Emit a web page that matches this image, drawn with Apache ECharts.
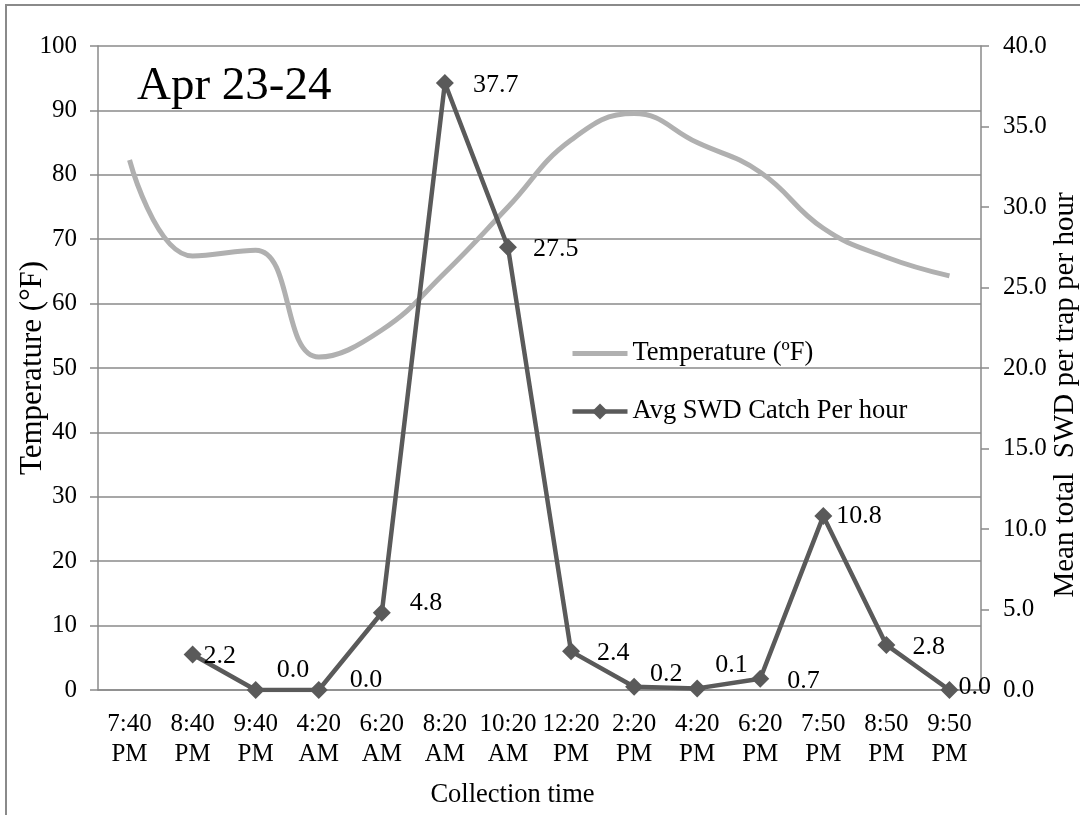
<!DOCTYPE html>
<html>
<head>
<meta charset="utf-8">
<script src="https://cdn.jsdelivr.net/npm/echarts@6/dist/echarts.min.js"></script>
<style>
  html, body { margin: 0; padding: 0; background: #fff; }
  #chart { width: 1080px; height: 815px; }
</style>
</head>
<body>
<div id="chart"></div>
<script>
// ---- Data ----
const categories = ['7:40\nPM', '8:40\nPM', '9:40\nPM', '4:20\nAM', '6:20\nAM', '8:20\nAM', '10:20\nAM',
  '12:20\nPM', '2:20\nPM', '4:20\nPM', '6:20\nPM', '7:50\nPM', '8:50\nPM', '9:50\nPM'];
const temperatureF = [82.3, 67.4, 68.3, 51.7, 55.9, 64.8, 75.0, 85.4, 89.5, 85.0, 80.4, 71.7, 67.2, 64.3];
const swdCatchPerHour = [null, 2.2, 0.0, 0.0, 4.8, 37.7, 27.5, 2.4, 0.2, 0.1, 0.7, 10.8, 2.8, 0.0];
const leftTicks = { min: 0, max: 100, interval: 10 };
const rightTicks = { min: 0, max: 40, interval: 5 };
const chartTitle = 'Apr 23-24';
const tempName = 'Temperature (\u00BAF)';
const swdName = 'Avg SWD Catch Per hour';

// ---- Label nudges (styling only) ----
const labelNudge = [[0,0],[2,2],[12,-20],[22,-10],[19,-10],[19,2],[16,2],[17,2],[7,-13],[9,-23],[18,2],[4,0],[17,2],[0,-3]];

const FONT = 'Liberation Serif';
const chart = echarts.init(document.getElementById('chart'));

const swdData = swdCatchPerHour.map((v, i) => ({
  value: v == null ? '-' : v,
  label: { offset: labelNudge[i] }
}));

chart.setOption({
  animation: false,
  textStyle: { fontFamily: FONT, color: '#000' },
  graphic: [{
    type: 'rect',
    shape: { x: 6, y: 5, width: 1200, height: 1000 },
    style: { fill: 'none', stroke: '#8a8a8a', lineWidth: 2 },
    silent: true, z: -10
  }],
  title: {
    text: chartTitle,
    left: 132, top: 58,
    textStyle: { fontFamily: FONT, fontSize: 47, fontWeight: 'normal', color: '#000' }
  },
  legend: {
    orient: 'vertical',
    left: 570, top: 340,
    padding: 0,
    itemWidth: 55, itemHeight: 20,
    itemGap: 31,
    textStyle: { fontFamily: FONT, fontSize: 26.5, color: '#000' },
    data: [
      { name: tempName, itemStyle: { opacity: 0 }, lineStyle: { width: 5, color: '#b0b0b0' } },
      { name: swdName, lineStyle: { width: 4.5, color: '#5a5a5a' } }
    ]
  },
  grid: { left: 98, right: 99, top: 46, bottom: 125, containLabel: false, outerBoundsMode: 'none' },
  xAxis: {
    type: 'category',
    data: categories,
    boundaryGap: true,
    axisLine: { show: true, lineStyle: { color: '#8a8a8a', width: 1.5 } },
    axisTick: { show: false },
    axisLabel: { fontFamily: FONT, fontSize: 25, color: '#000', lineHeight: 30, margin: 19, interval: 0 },
    name: 'Collection time',
    nameLocation: 'middle',
    nameGap: 92,
    nameMoveOverlap: false,
    nameTextStyle: { fontFamily: FONT, fontSize: 26.5, color: '#000', padding: [0, 54, 0, 0] }
  },
  yAxis: [{
    type: 'value',
    min: leftTicks.min, max: leftTicks.max, interval: leftTicks.interval,
    position: 'left',
    axisLine: { show: true, lineStyle: { color: '#8a8a8a', width: 1.5 } },
    axisTick: { show: true, length: 8, lineStyle: { color: '#8a8a8a', width: 1.5 } },
    splitLine: { show: true, lineStyle: { color: '#8a8a8a', width: 1.5 } },
    axisLabel: { fontFamily: FONT, fontSize: 25, color: '#000', margin: 21 },
    name: 'Temperature (\u00B0F)',
    nameLocation: 'middle',
    nameRotate: 90,
    nameGap: 50,
    nameMoveOverlap: false,
    nameTextStyle: { fontFamily: FONT, fontSize: 31, color: '#000' }
  }, {
    type: 'value',
    min: rightTicks.min, max: rightTicks.max, interval: rightTicks.interval,
    position: 'right',
    axisLine: { show: true, lineStyle: { color: '#8a8a8a', width: 1.5 } },
    axisTick: { show: true, length: 8, lineStyle: { color: '#8a8a8a', width: 1.5 } },
    splitLine: { show: false },
    axisLabel: { fontFamily: FONT, fontSize: 25, color: '#000', margin: 22,
      formatter: v => v.toFixed(1) },
    name: 'Mean total  SWD per trap per hour',
    nameLocation: 'middle',
    nameRotate: 90,
    nameGap: 70,
    nameMoveOverlap: false,
    nameTextStyle: { fontFamily: FONT, fontSize: 29, color: '#000', padding: [0, 54, 0, 0] }
  }],
  series: [{
    name: tempName,
    type: 'line',
    yAxisIndex: 0,
    data: temperatureF,
    smooth: 0.45,
    symbol: 'none',
    lineStyle: { color: '#b0b0b0', width: 5 },
    itemStyle: { color: '#b0b0b0' },
    z: 2
  }, {
    name: swdName,
    type: 'line',
    yAxisIndex: 1,
    data: swdData,
    symbol: 'diamond',
    symbolSize: 18,
    lineStyle: { color: '#5a5a5a', width: 4.5 },
    itemStyle: { color: '#5a5a5a' },
    label: {
      show: true,
      position: 'right',
      distance: 0,
      fontFamily: FONT, fontSize: 26, color: '#000',
      formatter: p => Number(p.value).toFixed(1)
    },
    z: 3
  }]
});
</script>
</body>
</html>
